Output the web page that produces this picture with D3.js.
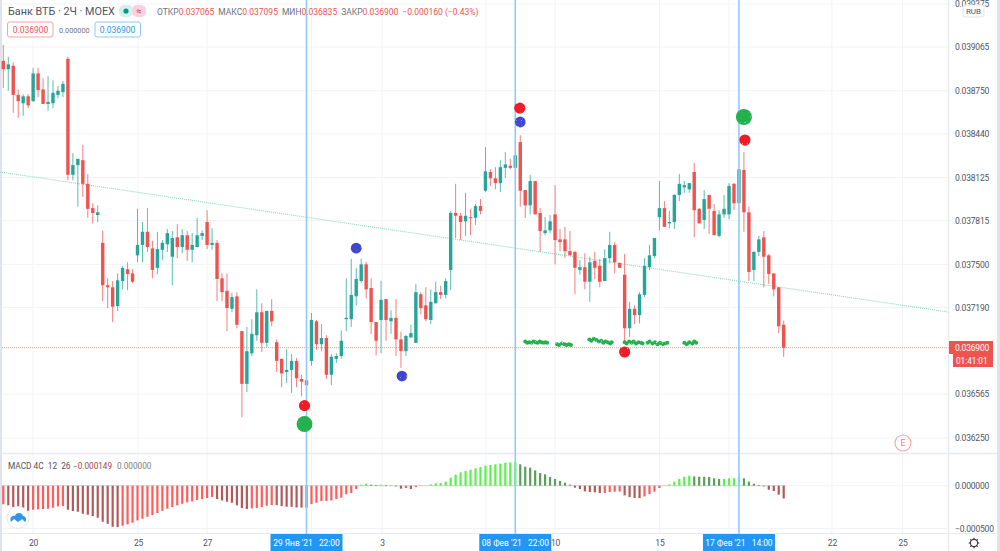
<!DOCTYPE html>
<html>
<head>
<meta charset="utf-8">
<script src="https://cdn.jsdelivr.net/npm/d3@7"></script>
<style>
  html, body { margin: 0; padding: 0; background: #fff; overflow: hidden; }
  svg { display: block; }
  text { font-family: Roboto, "Liberation Sans", sans-serif; }
  .axis path, .axis line { display: none; }
  .axis text { fill: #50535e; font-size: 8.5px; letter-spacing: -0.2px; }
</style>
</head>
<body>
<svg width="1000" height="551">
  <defs>
    <filter id="speckle" x="-10%" y="-10%" width="120%" height="120%" color-interpolation-filters="sRGB">
      <feTurbulence type="fractalNoise" baseFrequency="0.8" numOctaves="1" seed="4"/>
      <feColorMatrix type="matrix" values="0 0 0 0 0  0 0 0 0 0  0 0 0 0 0  0 0 0 -6 5"/>
      <feComposite in="SourceGraphic" operator="in"/>
    </filter>
  </defs>
</svg>
<script>
// prices are in millionths of a rouble (0.036900 -> 36900)
var opens = [
  38965,38905,38930,38720,38660,38710,38675,38875,38760,38655,
  38660,38720,38740,38980,38145,38215,38250,38080,37905,37855,
  37655,37350,37335,37200,37380,37465,37435,37565,37640,37735,
  37615,37475,37605,37645,37555,37695,37625,37710,37605,37625,
  37705,37805,37640,37655,37400,37310,37180,37270,37020,36640,
  36860,36990,37155,36935,37165,36940,36820,36725,36740,36805,
  36675,36665,36805,37090,36925,36970,36705,36820,36840,37105,
  37105,37270,37380,37500,37330,37085,37100,37250,37090,37115,
  36960,36875,36975,36935,37285,37205,37100,37220,37300,37280,
  37460,37870,37850,37810,37840,37835,37920,38030,38165,38120,
  38085,38195,38210,38195,38380,38035,37925,38100,37870,37725,
  37745,37860,37680,37680,37595,37590,37460,37480,37375,37525,
  37490,37380,37545,37640,37510,37425,37040,37180,37135,37280,
  37480,37560,37840,37905,37795,37805,38000,38055,38040,38165,
  37900,37820,38000,37885,37705,37860,37860,38080,37940,38180,
  37875,37460,37590,37695,37565,37435,37335,37065];
var highs = [
  39080,38995,38955,38760,38725,38725,38915,38915,38840,38855,
  38825,38785,38820,38995,38300,38260,38360,38150,37940,37925,
  37745,37400,37380,37435,37490,37515,37465,37900,37805,37905,
  37670,37735,37675,37755,37740,37790,37755,37740,37725,37835,
  37745,37890,37760,37675,37435,37435,37295,37300,37020,37050,
  37105,37320,37220,37165,37250,36960,36820,36890,36855,36825,
  36705,36665,37150,37100,37070,36990,36855,36860,37025,37400,
  37540,37475,37540,37515,37400,37085,37380,37250,37170,37250,
  37015,36990,37065,37360,37300,37335,37320,37375,37345,37400,
  37885,38080,37870,38015,37900,37935,37970,38345,38185,38200,
  38250,38310,38260,38300,38430,38035,38145,38100,37905,37840,
  37855,38070,37755,37770,37740,37595,37530,37580,37555,37590,
  37540,37610,37735,37660,37515,37575,37230,37205,37300,37545,
  37640,37690,38100,37955,37885,38005,38150,38100,38085,38230,
  37905,38035,38000,37935,37890,38000,38085,38085,38185,38310,
  37915,37595,37705,37740,37575,37435,37335,37095];
var lows = [
  38770,38750,38590,38555,38570,38625,38670,38705,38655,38605,
  38625,38695,38705,38105,38105,37915,37985,37835,37795,37805,
  37235,37185,37085,37165,37320,37315,37365,37515,37515,37590,
  37400,37430,37530,37590,37350,37545,37580,37525,37515,37625,
  37675,37610,37605,37235,37235,37020,37155,37040,36400,36580,
  36840,36950,36870,36905,37055,36725,36615,36645,36575,36615,
  36550,36630,36770,36885,36875,36675,36630,36790,36820,37020,
  37050,37205,37365,37255,37000,36845,36860,36950,37000,36840,
  36755,36840,36970,36935,37140,37090,37070,37220,37250,37255,
  37315,37690,37675,37705,37710,37785,37860,38020,38065,38040,
  38020,38120,38185,38185,37915,37835,37860,37860,37590,37710,
  37725,37500,37595,37545,37565,37285,37425,37320,37230,37395,
  37335,37380,37510,37435,37475,36940,36975,37070,37075,37265,
  37460,37545,37745,37770,37760,37755,37955,38015,38015,37695,
  37795,37755,37720,37710,37695,37835,37825,37890,37940,37735,
  37380,37380,37560,37335,37360,37270,37005,36835];
var closes = [
  38905,38940,38720,38675,38710,38645,38875,38755,38655,38670,
  38735,38750,38800,38145,38215,38260,38080,37900,37870,37875,
  37350,37335,37195,37385,37475,37430,37375,37640,37735,37625,
  37460,37610,37655,37725,37690,37625,37710,37605,37640,37710,
  37725,37640,37655,37395,37300,37185,37265,37065,36640,36875,
  37000,37155,36935,37165,37090,36805,36715,36740,36805,36680,
  36655,36630,37100,36925,36970,36705,36835,36840,36950,37115,
  37280,37395,37500,37320,37085,36950,37245,37100,37115,36960,
  36875,36985,37005,37300,37185,37105,37230,37300,37280,37380,
  37870,37850,37805,37850,37835,37920,37885,38170,38120,38085,
  38200,38220,38195,38285,38030,37925,38100,37860,37740,37745,
  37810,37675,37660,37595,37565,37475,37480,37375,37515,37475,
  37375,37545,37640,37515,37475,37040,37180,37135,37285,37490,
  37565,37690,37905,37770,37805,38000,38080,38070,38085,37890,
  37795,37970,37900,37710,37860,37900,38065,37940,38185,37875,
  37445,37590,37680,37555,37430,37320,37055,36900];

// MACD histogram, millionths
var macdHist = [
  -218,-230,-250,-269,-281,-293,-281,-277,-273,-269,
  -257,-242,-238,-281,-296,-304,-328,-339,-355,-374,
  -421,-445,-480,-484,-468,-452,-433,-406,-386,-363,
  -343,-320,-293,-269,-250,-230,-211,-195,-183,-168,
  -156,-144,-133,-156,-172,-187,-199,-230,-261,-273,
  -265,-261,-250,-234,-226,-227,-238,-246,-247,-254,
  -255,-256,-215,-199,-179,-178,-172,-156,-140,-101,
  -86,-39,12,23,12,8,12,8,8,-8,
  -35,-27,-39,-16,-2,-1,16,27,31,47,
  94,129,156,172,187,203,218,234,242,250,
  257,269,273,274,250,222,211,179,148,133,
  101,78,55,35,12,-23,-39,-66,-74,-78,
  -86,-85,-74,-70,-69,-113,-133,-144,-145,-125,
  -98,-70,-27,-1,16,47,78,105,117,109,
  105,104,103,86,78,79,86,87,101,86,
  47,23,8,-8,-47,-62,-105,-149];

var priceTicks = [39375,39065,38750,38440,38125,37815,37500,37190,36565,36250];
var macdTicks = [0,-500];

// day ticks, as candle numbers; empty labels sit under the blue crosshair tags
var dayTicks = [6,27.1,41,62,76.2,97.1,111,132,146,166.7,180.9];
var dayLabels = ["20","25","27","","3","","10","15","","22","25"];

// candle numbers of the vertical lines and their tags
var lineCandles = [61,103,148];
var lineTags = ["29 Янв '21   22:00","08 Фев '21   22:00","17 Фев '21   14:00"];

var trendCandles = [-0.66,190.1];
var trendPrices = [38165,37157];

var lastPrice = 36900;

// script markers
var dotCandle = [60.6,60.6,71,80.2,103.9,104,149,149.2,125];
var dotPrice = [36483,36350,37617,36696,38625,38525,38561,38395,36869];
var dotKind = ["red","greenBig","blue","blue","red","blue","greenBig","red","red"];

// little green marks above the last price
var stripCandle = [
  105,105.4,105.8,106.2,106.7,107.1,107.5,107.9,108.3,108.7,109.1,109.4,
  111.4,111.8,112.4,112.9,113.3,113.8,114.2,
  117.9,118.3,118.8,119.3,119.8,120.3,120.7,121.1,121.6,122.1,122.4,
  125,125.4,125.9,126.4,126.8,127.3,127.8,128.3,128.6,
  129.6,130,130.6,131.1,131.6,132.1,132.6,133.1,133.6,
  137,137.5,138,138.6,139,139.4];
var stripPrice = [
  36945,36935,36940,36935,36945,36940,36935,36945,36940,36935,36940,36935,
  36925,36920,36930,36925,36920,36925,36920,
  36960,36950,36965,36955,36945,36950,36935,36945,36940,36930,36940,
  36940,36930,36945,36935,36945,36930,36940,36935,36930,
  36935,36945,36930,36940,36925,36935,36925,36930,36935,
  36935,36925,36940,36930,36945,36935];

var svg = d3.select("svg"),
    paneRight = 948.5,
    priceColor = "#ef5350",
    upColor = "#26a69a",
    gridColor = "#f2f3f7",
    borderColor = "#e8eaf0";

var x = d3.scaleLinear().domain([0, 157]).range([3.3, 783.7]);
var y = d3.scaleLinear().domain([39065, 36250]).range([47, 438]);
var yMacd = d3.scaleLinear().domain([0, -500]).range([485.7, 528.5]);

function isUp(i) { return closes[i] >= opens[i]; }
function money(v) { return (v / 1e6).toFixed(6).replace("-", "\u2212"); }

// grid
var grid = svg.append("g");
grid.selectAll(".h").data(priceTicks).enter().append("line")
    .attr("x1", 2).attr("x2", paneRight)
    .attr("y1", function(d) { return y(d); }).attr("y2", function(d) { return y(d); })
    .attr("stroke", gridColor);
grid.selectAll(".m").data(macdTicks).enter().append("line")
    .attr("x1", 2).attr("x2", paneRight)
    .attr("y1", function(d) { return yMacd(d); }).attr("y2", function(d) { return yMacd(d); })
    .attr("stroke", gridColor);
grid.selectAll(".v").data(dayTicks).enter().append("line")
    .attr("x1", function(d) { return x(d); }).attr("x2", function(d) { return x(d); })
    .attr("y1", 0).attr("y2", 533)
    .attr("stroke", gridColor);

// frame
svg.append("rect").attr("x", 0).attr("y", 0).attr("width", 2).attr("height", 551).attr("fill", "#dfe3ee");
svg.append("rect").attr("x", 997).attr("y", 0).attr("width", 3).attr("height", 551).attr("fill", "#dfe3ee");
svg.append("line").attr("x1", paneRight).attr("x2", paneRight).attr("y1", 0).attr("y2", 551)
    .attr("stroke", borderColor).attr("stroke-width", 1.5);
svg.append("line").attr("x1", 2).attr("x2", 997).attr("y1", 453.5).attr("y2", 453.5)
    .attr("stroke", borderColor).attr("stroke-width", 1.5);
svg.append("line").attr("x1", 2).attr("x2", 997).attr("y1", 533.5).attr("y2", 533.5)
    .attr("stroke", borderColor);

// trend line
var trend = d3.line()
    .x(function(d, i) { return x(trendCandles[i]); })
    .y(function(d) { return y(d); });
svg.append("path").datum(trendPrices)
    .attr("d", trend)
    .attr("fill", "none").attr("stroke", "#8dd6bf").attr("stroke-width", 1.1)
    .attr("stroke-dasharray", "1 1");

// last price line
svg.append("line")
    .attr("x1", 2).attr("x2", paneRight)
    .attr("y1", y(lastPrice)).attr("y2", y(lastPrice))
    .attr("stroke", "#f2a0a0").attr("stroke-dasharray", "1 1");

// candles
var candles = svg.append("g");
candles.selectAll("line").data(d3.range(opens.length)).enter().append("line")
    .attr("x1", function(i) { return x(i); }).attr("x2", function(i) { return x(i); })
    .attr("y1", function(i) { return y(highs[i]); }).attr("y2", function(i) { return y(lows[i]); })
    .attr("stroke", function(i) { return isUp(i) ? upColor : priceColor; })
    .attr("stroke-width", 1).attr("stroke-opacity", 0.75);
candles.selectAll("rect").data(d3.range(opens.length)).enter().append("rect")
    .attr("x", function(i) { return x(i) - 1.7; })
    .attr("width", 3.4)
    .attr("y", function(i) { return y(Math.max(opens[i], closes[i])); })
    .attr("height", function(i) { return Math.max(1, Math.abs(y(opens[i]) - y(closes[i]))); })
    .attr("fill", function(i) { return isUp(i) ? upColor : priceColor; });

// macd histogram, four colours from the sign and the direction
function macdColor(i) {
  var v = macdHist[i], prev = i > 0 ? macdHist[i - 1] : v - 1;
  if (v >= 0) return v >= prev ? "#58f24a" : "#5c9e5c";
  return v <= prev ? "#b25a5a" : "#ff5c5c";
}
svg.append("line").attr("x1", 2).attr("x2", x(157) + 2).attr("y1", yMacd(0)).attr("y2", yMacd(0))
    .attr("stroke", "#d6d6d6");
svg.append("g").selectAll("rect").data(macdHist).enter().append("rect")
    .attr("x", function(d, i) { return x(i) - 1.1; })
    .attr("width", 2.2)
    .attr("y", function(d) { return Math.min(yMacd(d), yMacd(0)); })
    .attr("height", function(d) { return Math.abs(yMacd(d) - yMacd(0)); })
    .attr("fill", function(d, i) { return macdColor(i); });

// vertical lines
svg.append("g").selectAll("line").data(lineCandles).enter().append("line")
    .attr("x1", function(d) { return x(d); }).attr("x2", function(d) { return x(d); })
    .attr("y1", 0).attr("y2", 534)
    .attr("stroke", "#93c9f9").attr("stroke-width", 1.6);

// markers
var dotStyle = {
  red: {fill: "#ee1c25", r: 5.6},
  blue: {fill: "#3f48cc", r: 5.4},
  greenBig: {fill: "#22b14c", r: 8}
};
svg.append("g").attr("filter", "url(#speckle)")
  .selectAll("circle").data(dotKind).enter().append("circle")
    .attr("cx", function(d, i) { return x(dotCandle[i]); })
    .attr("cy", function(d, i) { return y(dotPrice[i]); })
    .attr("r", function(d) { return dotStyle[d].r; })
    .attr("fill", function(d) { return dotStyle[d].fill; });
svg.append("g").attr("filter", "url(#speckle)")
  .selectAll("circle").data(stripCandle).enter().append("circle")
    .attr("cx", function(d) { return x(d); })
    .attr("cy", function(d, i) { return y(stripPrice[i]); })
    .attr("r", 2)
    .attr("fill", "#22b14c");

// axes
svg.append("g").attr("class", "axis")
    .attr("transform", "translate(955,0)")
    .call(d3.axisRight(y).tickValues(priceTicks).tickSize(0).tickPadding(0).tickFormat(money));
svg.append("g").attr("class", "axis")
    .attr("transform", "translate(955,0)")
    .call(d3.axisRight(yMacd).tickValues(macdTicks).tickSize(0).tickPadding(0).tickFormat(money));
svg.append("g").attr("class", "axis")
    .attr("transform", "translate(0,534)")
    .call(d3.axisBottom(x).tickValues(dayTicks).tickSize(0).tickPadding(6)
      .tickFormat(function(d, i) { return dayLabels[i]; }));

// RUB box
svg.append("rect").attr("x", 963).attr("y", 5).attr("width", 21).attr("height", 12).attr("rx", 2.5)
    .attr("fill", "#fff").attr("stroke", "#e0e3eb");
svg.append("text").attr("x", 973.5).attr("y", 14).attr("text-anchor", "middle")
    .attr("font-size", 8).attr("fill", "#50535e").text("RUB");

// last price tags
svg.append("rect").attr("x", 949).attr("y", 341).attr("width", 44).attr("height", 13).attr("fill", priceColor);
svg.append("rect").attr("x", 953).attr("y", 354).attr("width", 40).attr("height", 13).attr("fill", priceColor);
svg.append("text").attr("x", 955).attr("y", 350.7).attr("font-size", 8.5).attr("letter-spacing", -0.2)
    .attr("fill", "#fff").text(money(lastPrice));
svg.append("text").attr("x", 956).attr("y", 363.7).attr("font-size", 8.2)
    .attr("fill", "#fff").text("01:41:01");

// date tags
var tagWidth = 72;
svg.append("g").selectAll("rect").data(lineCandles).enter().append("rect")
    .attr("x", function(d) { return x(d) - tagWidth / 2; })
    .attr("y", 534).attr("width", tagWidth).attr("height", 17)
    .attr("fill", "#2196f3");
svg.append("g").selectAll("text").data(lineTags).enter().append("text")
    .attr("x", function(d, i) { return x(lineCandles[i]); })
    .attr("y", 545.5).attr("text-anchor", "middle")
    .attr("font-size", 8.4).attr("fill", "#fff")
    .style("white-space", "pre").text(function(d) { return d; });

// E badge
svg.append("circle").attr("cx", 903).attr("cy", 443).attr("r", 8)
    .attr("fill", "#fff").attr("stroke", "#f7a9a9").attr("stroke-width", 1.2);
svg.append("text").attr("x", 903).attr("y", 446).attr("text-anchor", "middle")
    .attr("font-size", 8.5).attr("fill", "#ef7a7a").text("E");

// header
svg.append("text").attr("x", 8).attr("y", 15).attr("font-size", 10.8).attr("fill", "#50535e")
    .text("Банк ВТБ · 2Ч · MOEX");
svg.append("rect").attr("x", 119).attr("y", 5).attr("width", 14).attr("height", 12).attr("fill", "#d3f0ec").attr("rx", 5);
svg.append("rect").attr("x", 132).attr("y", 5).attr("width", 14).attr("height", 12).attr("fill", "#fbd0de").attr("rx", 5);
svg.append("circle").attr("cx", 126).attr("cy", 11).attr("r", 2.6).attr("fill", "#089981");
svg.append("text").attr("x", 139).attr("y", 14).attr("text-anchor", "middle")
    .attr("font-size", 9).attr("fill", "#d81b60").text("≈");

var ohlc = svg.append("text").attr("x", 157).attr("y", 14.5).attr("font-size", 8.5);
[["ОТКР", 0, 0], ["0.037065", 1, 0], ["МАКС", 0, 4], ["0.037095", 1, 0], ["МИН", 0, 4], ["0.036835", 1, 0],
 ["ЗАКР", 0, 4], ["0.036900", 1, 0], ["−0.000160 (−0.43%)", 1, 4]].forEach(function(p) {
  ohlc.append("tspan").attr("fill", p[1] ? priceColor : "#6f727c").attr("dx", p[2])
      .text(p[0]);
});

// indicator value boxes
svg.append("rect").attr("x", 7.5).attr("y", 22).attr("width", 45.5).attr("height", 15).attr("rx", 2)
    .attr("fill", "#fff").attr("stroke", "#f6a3a3");
svg.append("text").attr("x", 30.5).attr("y", 32.7).attr("text-anchor", "middle")
    .attr("font-size", 8.5).attr("fill", priceColor).text("0.036900");
svg.append("text").attr("x", 59).attr("y", 32.5).attr("font-size", 7.3).attr("fill", "#6f727c").text("0.000000");
svg.append("rect").attr("x", 95).attr("y", 22).attr("width", 45.5).attr("height", 15).attr("rx", 2)
    .attr("fill", "#fff").attr("stroke", "#90c6f7");
svg.append("text").attr("x", 117.5).attr("y", 32.7).attr("text-anchor", "middle")
    .attr("font-size", 8.5).attr("fill", "#2196f3").text("0.036900");

// macd legend
svg.append("text").attr("x", 8).attr("y", 468.5).attr("font-size", 8.3).attr("fill", "#50535e")
    .style("white-space", "pre").text("MACD 4C  12  26");
svg.append("text").attr("x", 73).attr("y", 468.5).attr("font-size", 8.2).attr("fill", "#a64646").text("−0.000149");
svg.append("text").attr("x", 117).attr("y", 468.5).attr("font-size", 8.2).attr("fill", "#7d7d7d").text("0.000000");

// logo
svg.append("circle").attr("cx", 18).attr("cy", 517.5).attr("r", 11)
    .attr("fill", "#fff").attr("stroke", "#e6e8ee");
svg.append("path")
    .attr("d", "M11,522 C9,517 13,515 15,516 C16,512 22,512 23,516 C26,516 27,520 25,522 L22,519 L18,522 L14,519 Z")
    .attr("fill", "#2a96ee");

// gear
var gear = svg.append("g").attr("transform", "translate(974,543)");
gear.append("circle").attr("r", 3.6).attr("fill", "none").attr("stroke", "#3c3f48").attr("stroke-width", 1.1);
gear.selectAll("line").data(d3.range(8)).enter().append("line")
    .attr("x1", 0).attr("x2", 0).attr("y1", -3.4).attr("y2", -5.2)
    .attr("transform", function(d) { return "rotate(" + d * 45 + ")"; })
    .attr("stroke", "#3c3f48").attr("stroke-width", 1.3);
</script>
</body>
</html>
